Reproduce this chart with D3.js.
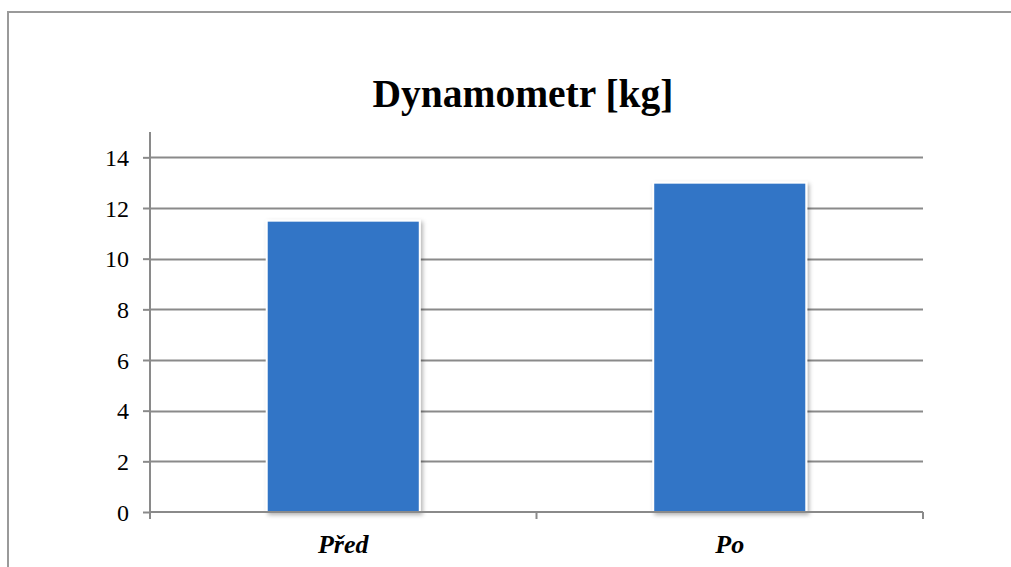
<!DOCTYPE html>
<html>
<head>
<meta charset="utf-8">
<script src="https://cdn.jsdelivr.net/npm/d3@7"></script>
<style>
  html, body { margin: 0; padding: 0; background: #fff; }
  svg { display: block; }
  svg text { font-family: "Liberation Serif", Tinos, "Times New Roman", serif; }
</style>
</head>
<body>
<svg id="chart" width="1011" height="567"></svg>
<script>
const categories = ["Před", "Po"];
const values = [11.5, 13];
const yTicks = [0, 2, 4, 6, 8, 10, 12, 14];
const title = "Dynamometr [kg]";

(function () {
const FONT = '"Liberation Serif", Tinos, "Times New Roman", serif';
const svg = d3.select("#chart");
const W = 1011, H = 567;
const pLeft = 150, pRight = 923, pTop = 132, pBottom = 512;

const defs = svg.append("defs");
const f = defs.append("filter").attr("id", "shadow").attr("x", "-10%").attr("y", "-10%").attr("width", "130%").attr("height", "130%");
f.append("feDropShadow").attr("dx", 2).attr("dy", 2).attr("stdDeviation", 2).attr("flood-color", "#000").attr("flood-opacity", 0.3);

// outer border
svg.append("path")
  .attr("d", `M8,${H} V12 H${W}`)
  .attr("fill", "none").attr("stroke", "#9a9a9a").attr("stroke-width", 2);

const x = d3.scaleBand().domain(categories).range([pLeft, pRight]).paddingInner(0.604).paddingOuter(0.302);
const xCat = d3.scaleBand().domain(categories).range([pLeft, pRight]).padding(0);
const y = d3.scaleLinear().domain([0, 15]).range([pBottom, pTop]);

// gridlines
svg.append("g").selectAll("line").data(yTicks.filter(d => d > 0)).join("line")
  .attr("x1", pLeft).attr("x2", pRight)
  .attr("y1", d => Math.round(y(d)) + 0.5).attr("y2", d => Math.round(y(d)) + 0.5)
  .attr("stroke", "#8a8a8a").attr("stroke-width", 2);

// bars
svg.append("g").selectAll("rect").data(categories).join("rect")
  .attr("x", d => x(d))
  .attr("y", (d, i) => y(values[i]))
  .attr("width", x.bandwidth())
  .attr("height", (d, i) => pBottom - y(values[i]))
  .attr("fill", "#3275c6")
  .attr("stroke", "#fff").attr("stroke-width", 2)
  .attr("filter", "url(#shadow)");

// y axis
const yAxis = d3.axisLeft(y).tickValues(yTicks).tickSize(7).tickPadding(14).tickFormat(d3.format("d"));
const gy = svg.append("g").attr("transform", `translate(${pLeft},0)`).call(yAxis);
gy.attr("font-family", null).attr("font-size", null);
gy.select(".domain").remove();
gy.append("line").attr("x1", 0).attr("x2", 0).attr("y1", pTop).attr("y2", pBottom + 7)
  .attr("stroke", "#8a8a8a").attr("stroke-width", 2);
gy.selectAll(".tick line").attr("stroke", "#8a8a8a").attr("stroke-width", 2);
gy.selectAll(".tick text")
  .style("font-family", FONT)
  .style("font-size", "24px").attr("fill", "#000").attr("dy", "0.34em");

// x axis
const gx = svg.append("g").attr("transform", `translate(0,${pBottom})`);
gx.append("line").attr("x1", pLeft).attr("x2", pRight).attr("y1", 0).attr("y2", 0)
  .attr("stroke", "#8a8a8a").attr("stroke-width", 2);
const boundaries = [xCat(categories[0]), xCat(categories[1]), xCat(categories[1]) + xCat.bandwidth()];
gx.selectAll("line.tk").data(boundaries).join("line").attr("class", "tk")
  .attr("x1", d => d).attr("x2", d => d).attr("y1", 0).attr("y2", 7)
  .attr("stroke", "#8a8a8a").attr("stroke-width", 2);
gx.selectAll("text").data(categories).join("text")
  .attr("x", d => xCat(d) + xCat.bandwidth() / 2)
  .attr("y", 41)
  .attr("text-anchor", "middle")
  .style("font-family", FONT)
  .style("font-size", "26px").style("font-weight", "bold").style("font-style", "italic")
  .attr("fill", "#000")
  .text(d => d);

// title
svg.append("text")
  .attr("x", 523).attr("y", 107)
  .attr("text-anchor", "middle")
  .style("font-family", FONT)
  .style("font-size", "39.5px").style("font-weight", "bold").attr("fill", "#000")
  .text(title);
})();
</script>
</body>
</html>
